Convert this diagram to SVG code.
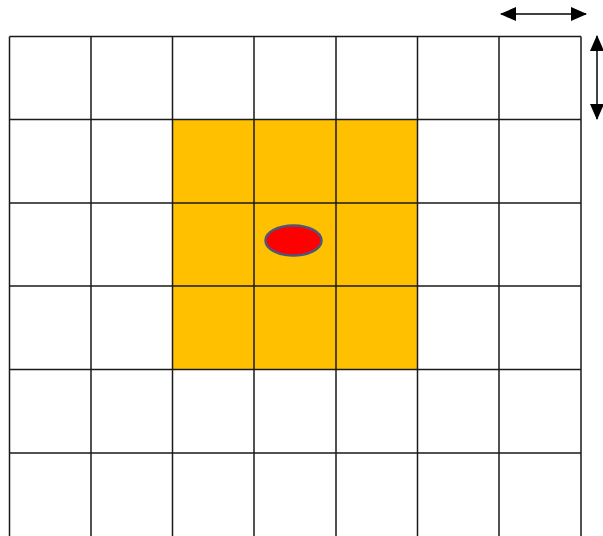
<svg xmlns="http://www.w3.org/2000/svg" width="603" height="536" viewBox="0 0 603 536">
<defs>
<style>
.grid{stroke:#1a1a1a;stroke-width:1.5;fill:none}
.arrow{stroke:#000;stroke-width:1.5;fill:none}
</style>
<marker id="ah" viewBox="0 0 16 14" refX="15" refY="7" markerWidth="16" markerHeight="14" markerUnits="userSpaceOnUse" orient="auto-start-reverse">
<path d="M0,0 L16,7 L0,14 Z" fill="#000"/>
</marker>
</defs>
<g id="highlight">
<rect x="172.5" y="119.5" width="245" height="250" fill="#FFC000"/>
</g>
<g id="grid" class="grid">
<path d="M9.5,36.5V536 M91,36.5V536 M172.5,36.5V536 M254,36.5V536 M336,36.5V536 M417.5,36.5V536 M499,36.5V536 M581,36.5V536"/>
<path d="M9.5,36.5H581 M9.5,119.5H581 M9.5,203H581 M9.5,286H581 M9.5,369.5H581 M9.5,453H581"/>
</g>
<g id="point">
<ellipse cx="293.5" cy="240.5" rx="28" ry="15" fill="#FF0000" stroke="#4f5577" stroke-width="2.5"/>
</g>
<g id="connectors">
<line class="arrow" x1="501" y1="14" x2="586" y2="14" marker-start="url(#ah)" marker-end="url(#ah)"/>
<line class="arrow" x1="597" y1="36" x2="597" y2="119" marker-start="url(#ah)" marker-end="url(#ah)"/>
</g>
</svg>
